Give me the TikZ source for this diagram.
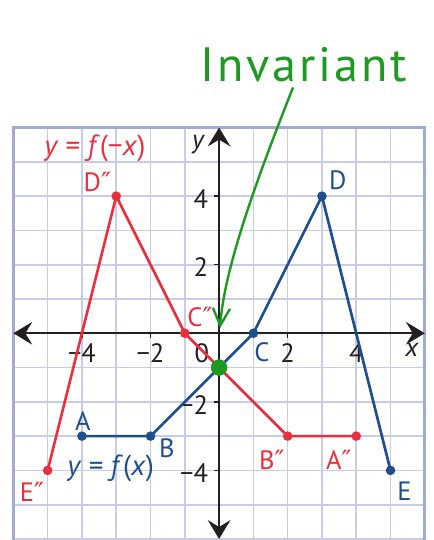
\documentclass[tikz,border=0pt]{standalone}
\usepackage{fontspec}
\setmainfont{PT Sans}
\newfontfamily\symfont{DejaVu Sans}
\newfontfamily\handfont[LetterSpace=6]{PT Sans}
\usetikzlibrary{arrows.meta, positioning}
\definecolor{cblue}{HTML}{1F4E8C}
\definecolor{cred}{HTML}{EC2D3C}
\definecolor{cgreen}{HTML}{1E9A22}
\definecolor{cgrid}{HTML}{C8CCE8}
\definecolor{cframe}{HTML}{A3AAD6}
\definecolor{caxis}{HTML}{231F20}
\newcommand{\dprime}{{\symfont ″}}
\tikzset{
  every picture/.style={font=\fontsize{22}{26}\selectfont, line width=1.2pt},
  axis/.style={{Stealth[length=5.5mm, width=6.6mm, inset=2mm]}-{Stealth[length=5.5mm, width=6.6mm, inset=2mm]}, draw=caxis, line width=1.8pt},
  graph/.style={draw=#1, line width=2.2pt, line join=round},
  dot/.style={circle, fill=#1, inner sep=0pt, minimum size=2.8mm},
  lbl/.style={text=#1, inner sep=0pt},
  lbl/.default=caxis,
  fname/.style={text=#1, inner sep=0pt, font=\fontsize{24}{28}\selectfont},
}

\begin{document}
\begin{tikzpicture}
  \useasboundingbox (-6.39,-6.03) rectangle (6.26,9.72);
  % ---- grid
  \draw[cgrid, line width=1.4pt] (-6,-6.5) grid (6,6);
  \draw[cframe, line width=2.4pt] (-6,-6.5) -- (-6,6) -- (6,6) -- (6,-6.5);
  % ---- axes
  \coordinate (xl) at (-6,0); \coordinate (xr) at (6,0);
  \coordinate (yb) at (0,-6); \coordinate (yt) at (0,6);
  \draw[axis] (xl) -- (xr);
  \draw[axis] (yb) -- (yt);
  \foreach \t in {-4,-2,2,4} {
    \draw[caxis, line width=1.2pt] (\t,0) -- (\t,-0.15);
    \draw[caxis, line width=1.2pt] (0,\t) -- (-0.15,\t);
  }
  \foreach \t/\s [count=\i] in {-4/−4, -2/−2, 2/2, 4/4} {
    \node[lbl] (xt\i) at (\t,-0.57) {\s};
    \node[lbl, anchor=east] (yt\i) at (-0.3,\t-0.08) {\s};
  }
  \node[lbl] (zero) at (-0.5,-0.57) {0};
  \node[lbl, font=\fontsize{22}{26}\selectfont\itshape] (xlab) at (5.62,-0.49) {x};
  \node[lbl, font=\fontsize{22}{26}\selectfont\itshape] (ylab) at (-0.62,5.49) {y};
  % ---- y = f(x)
  \coordinate (A) at (-4,-3); \coordinate (B) at (-2,-3); \coordinate (C) at (1,0);
  \coordinate (D) at (3,4); \coordinate (E) at (5,-4);
  \draw[graph=cblue] (A) -- (B) -- (C) -- (D) -- (E);
  \foreach \p in {A,B,C,D,E} \node[dot=cblue] (\p dot) at (\p) {};
  \node[lbl=cblue] (Alab) at (-3.97,-2.56) {A};
  \node[lbl=cblue] (Blab) at (-1.52,-3.34) {B};
  \node[lbl=cblue] (Clab) at (1.25,-0.55) {C};
  \node[lbl=cblue] (Dlab) at (3.46,4.47) {D};
  \node[lbl=cblue] (Elab) at (5.41,-4.6) {E};
  \node[fname=cblue] (fpos) at (-3.16,-3.93) {\textit{y}\hspace{0.25em}=\hspace{0.25em}\textit{f}(\textit{x})};
  % ---- y = f(-x)
  \coordinate (A2) at (4,-3); \coordinate (B2) at (2,-3); \coordinate (C2) at (-1,0);
  \coordinate (D2) at (-3,4); \coordinate (E2) at (-5,-4);
  \draw[graph=cred] (A2) -- (B2) -- (C2) -- (D2) -- (E2);
  \foreach \p in {A2,B2,C2,D2,E2} \node[dot=cred] (\p dot) at (\p) {};
  \node[lbl=cred] (A2lab) at (3.49,-3.69) {A\dprime};
  \node[lbl=cred] (B2lab) at (1.54,-3.69) {B\dprime};
  \node[lbl=cred] (C2lab) at (-0.56,0.48) {C\dprime};
  \node[lbl=cred] (D2lab) at (-3.55,4.41) {D\dprime};
  \node[lbl=cred] (E2lab) at (-5.46,-4.63) {E\dprime};
  \node[fname=cred] (fneg) at (-3.62,5.4) {\textit{y}\hspace{0.25em}=\hspace{0.25em}\textit{f}(−\textit{x})};
  % ---- invariant point
  \node[dot=cgreen, minimum size=4.8mm] (fix) at (0,-1) {};
  \node[text=cgreen, font=\fontsize{40}{44}\handfont, anchor=base, inner sep=0.15cm] (inv) at (2.47,7.34) {Invariant};
  \coordinate (tip) at (0.03,0.15);
  \draw[cgreen, line width=2pt, line cap=round, -{Straight Barb[length=5mm, width=5mm]}] ([xshift=-3.2mm]inv.south) .. controls (1.3,5.0) and (0.15,2.0) .. (tip);
\end{tikzpicture}
\end{document}
